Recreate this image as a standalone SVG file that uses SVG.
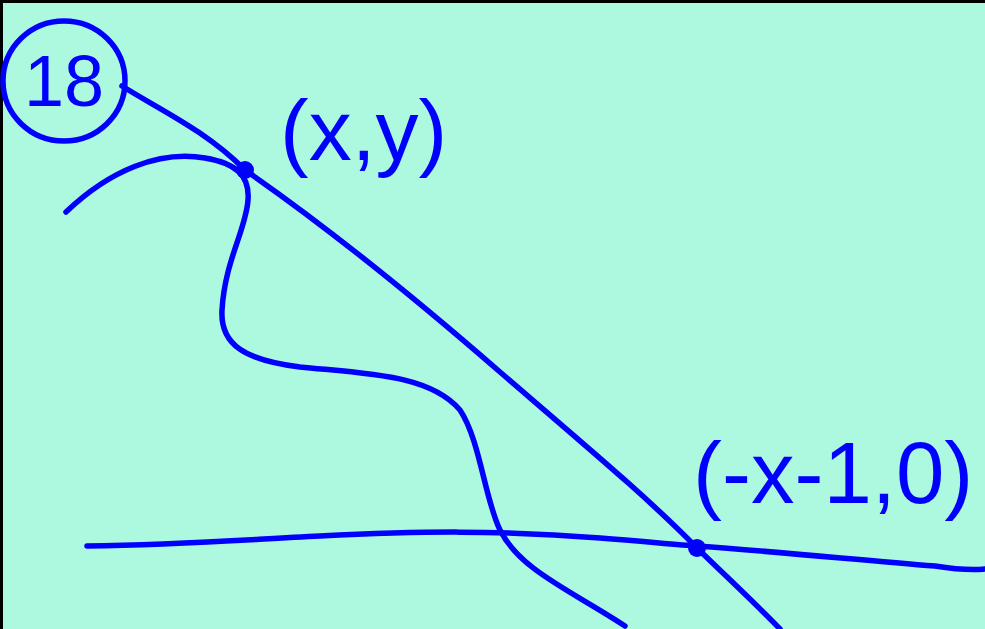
<svg xmlns="http://www.w3.org/2000/svg" width="985" height="629" viewBox="0 0 985 629">
<style>
.ink{fill:none;stroke:#0000ff;stroke-width:5.5;stroke-linecap:round;stroke-linejoin:round}
.lbl{fill:#0000ff;font-family:"Liberation Sans",Arial,sans-serif}
.dot{fill:#0000ff}
</style>
<rect x="0" y="0" width="985" height="629" fill="#acf9df"/>
<path d="M1.5 629 V1.5 H985" fill="none" stroke="#000" stroke-width="3"/>
<g id="connectors">
<path class="ink" d="M122 86 C160 110 205 130 245 170 C310 215 400 285 500 372 C600 458 650 500 697 548 C730 580 760 608 780 629"/>
<path class="ink" d="M66 212 C110 170 160 150 205 158 C235 163 250 175 248 200 C246 230 225 260 222 310 C220 345 245 360 300 367 C370 374 430 375 460 410 C480 440 485 500 500 530 C520 570 570 590 625 626"/>
<path class="ink" d="M87 546 C180 545 240 540 320 536 C420 531 500 530 600 538 C650 542 680 545 697 546 C780 552 860 560 935 566 C960 570 975 570 985 569"/>
</g>
<g id="node-18">
<ellipse class="ink" cx="64" cy="81" rx="61" ry="60"/>
<text class="lbl" x="64" y="106" font-size="72" text-anchor="middle">18</text>
</g>
<g id="node-xy">
<circle class="dot" cx="245" cy="170" r="9"/>
<text class="lbl" x="280" y="160" font-size="86">(x,y)</text>
</g>
<g id="node-x1">
<circle class="dot" cx="697" cy="548" r="9"/>
<text class="lbl" x="693" y="503" font-size="87">(-x-1,0)</text>
</g>
</svg>
